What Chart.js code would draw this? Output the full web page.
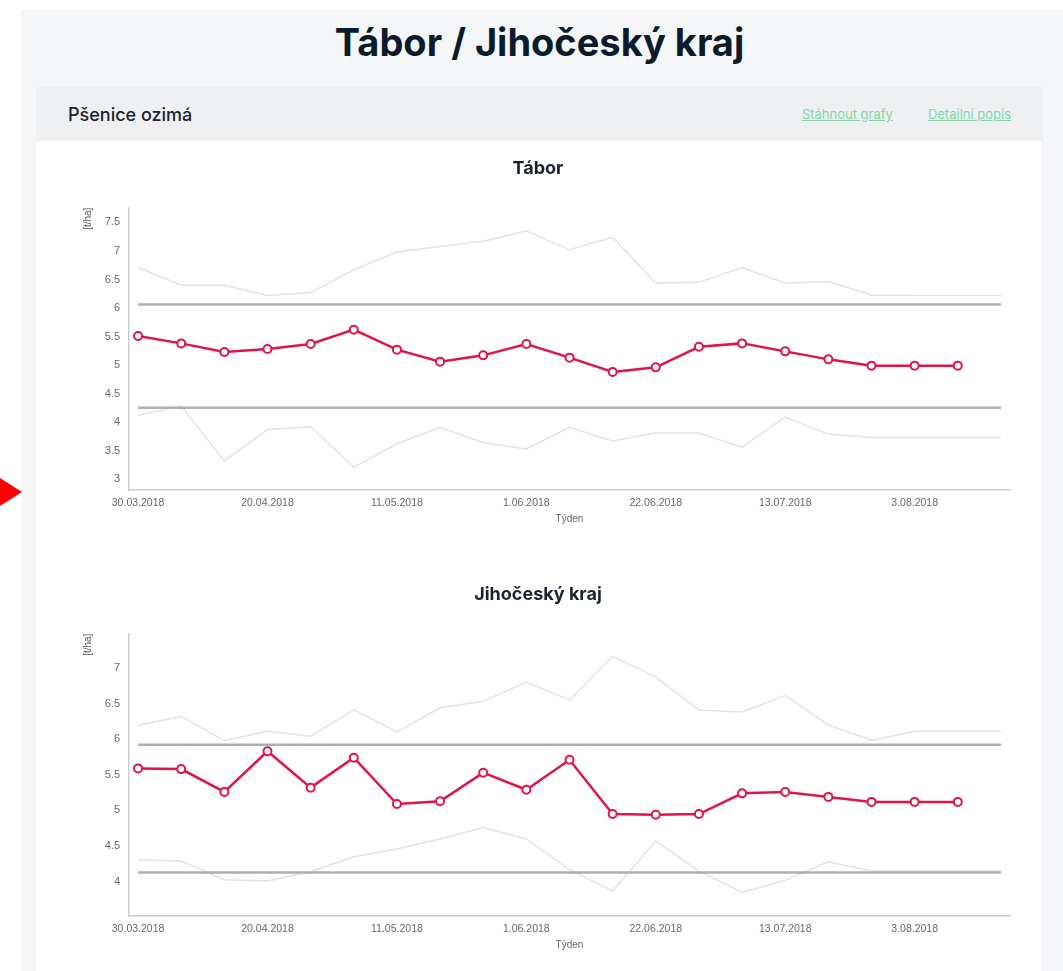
<!DOCTYPE html>
<html lang="cs">
<head>
<meta charset="utf-8">
<title>Tábor / Jihočeský kraj</title>
<script src="https://cdn.jsdelivr.net/npm/chart.js@4.4.1/dist/chart.umd.min.js"></script>
<style>
  body { margin: 0; background: #fff; font-family: Inter, "Noto Sans", sans-serif; }
  .page { position: absolute; left: 21px; top: 10px; width: 1042px; height: 961px; background: #f5f6f8; }
  .arrow { position: absolute; left: 0; top: 478px; width: 0; height: 0;
           border-top: 14px solid transparent; border-bottom: 14px solid transparent; border-left: 22px solid #ff0000; }
  h1 { position: absolute; left: 36px; width: 1007px; top: 19px; margin: 0; text-align: center;
       font-size: 38px; font-weight: 700; color: #0c1b2b; letter-spacing: 0px; }
  .card { position: absolute; left: 36px; top: 87px; width: 1006px; height: 900px; background: #fff;
          border-right: 1px solid #eceef1; }
  .card-head { height: 54px; background: #eff0f2; position: relative; }
  .card-head h2 { position: absolute; left: 32px; top: 17px; margin: 0; font-size: 18px; font-weight: 500; color: #1b2230; }
  .card-head .links { position: absolute; right: 31px; top: 19px; font-size: 13px; }
  .card-head a { color: #86d3ab; text-decoration: underline; margin-left: 35px; }
  .chart-box { position: absolute; left: 66px; width: 950px; height: 384px; }
</style>
</head>
<body>
<div class="page"></div>
<div class="arrow"></div>
<h1>Tábor / Jihočeský kraj</h1>
<div class="card">
  <div class="card-head">
    <h2>Pšenice ozimá</h2>
    <div class="links"><a href="#">Stáhnout grafy</a><a href="#">Detailní popis</a></div>
  </div>
</div>
<div class="chart-box" style="top:146px"><canvas id="taborChart"></canvas></div>
<div class="chart-box" style="top:572px"><canvas id="krajChart"></canvas></div>

<script>
// weekly dates (x axis)
var weeks = ['30.03.2018', '6.04.2018', '13.04.2018', '20.04.2018', '27.04.2018', '4.05.2018', '11.05.2018',
             '18.05.2018', '25.05.2018', '1.06.2018', '8.06.2018', '15.06.2018', '22.06.2018', '29.06.2018',
             '6.07.2018', '13.07.2018', '20.07.2018', '27.07.2018', '3.08.2018', '10.08.2018', '17.08.2018'];
var weekTicks = [0, 3, 6, 9, 12, 15, 18];

// Tábor [t/ha]
var taborYield = [5.51, 5.38, 5.23, 5.28, 5.37, 5.62, 5.27, 5.06, 5.17, 5.37, 5.13, 4.88, 4.96, 5.32, 5.38, 5.24, 5.10, 4.99, 4.99, 4.99];
var taborHigh = [6.71, 6.40, 6.40, 6.22, 6.27, 6.67, 6.98, 7.08, 7.17, 7.35, 7.02, 7.24, 6.44, 6.45, 6.71, 6.44, 6.46, 6.23, 6.22, 6.22, 6.22];
var taborLow = [4.12, 4.28, 3.32, 3.87, 3.92, 3.21, 3.62, 3.91, 3.64, 3.53, 3.91, 3.67, 3.81, 3.81, 3.56, 4.09, 3.79, 3.73, 3.73, 3.73, 3.73];
var taborLimits = [6.06, 4.25];
var taborTicks = [3, 3.5, 4, 4.5, 5, 5.5, 6, 6.5, 7, 7.5];

// Jihočeský kraj [t/ha]
var krajYield = [5.59, 5.58, 5.26, 5.83, 5.32, 5.74, 5.09, 5.13, 5.53, 5.29, 5.71, 4.95, 4.94, 4.95, 5.24, 5.26, 5.19, 5.12, 5.12, 5.12];
var krajHigh = [6.19, 6.32, 5.98, 6.11, 6.04, 6.41, 6.10, 6.44, 6.53, 6.80, 6.55, 7.16, 6.87, 6.41, 6.38, 6.61, 6.20, 5.98, 6.11, 6.11, 6.11];
var krajLow = [4.31, 4.29, 4.03, 4.01, 4.14, 4.35, 4.46, 4.60, 4.76, 4.60, 4.17, 3.87, 4.57, 4.15, 3.85, 4.02, 4.28, 4.15, 4.15, 4.15, 4.15];
var krajLimits = [5.92, 4.13];
var krajTicks = [4, 4.5, 5, 5.5, 6, 6.5, 7];

function points(values) {
    return values.map(function (v, i) { return { x: i, y: v }; });
}

function limitLine(value) {
    return [{ x: 0, y: value }, { x: weeks.length - 1, y: value }];
}

function makeChart(id, title, yieldData, high, low, limits, yTicks, yMin, yMax) {
    var lineStyle = { borderColor: '#e2e2e2', borderWidth: 1.5, pointRadius: 0, fill: false };
    var limitStyle = { borderColor: '#a9b0b7', borderWidth: 2.5, pointRadius: 0, fill: false };

    return new Chart(document.getElementById(id), {
        type: 'line',
        data: {
            datasets: [
                {
                    label: 'Výnos',
                    data: points(yieldData),
                    borderColor: '#e0134b',
                    borderWidth: 2.5,
                    pointRadius: 4,
                    pointBackgroundColor: '#fff',
                    pointBorderColor: '#e0134b',
                    pointBorderWidth: 2,
                    order: 0
                },
                Object.assign({ label: 'Horní mez', data: limitLine(limits[0]), order: 1 }, limitStyle),
                Object.assign({ label: 'Dolní mez', data: limitLine(limits[1]), order: 1 }, limitStyle),
                Object.assign({ label: 'Maximum', data: points(high), order: 2 }, lineStyle),
                Object.assign({ label: 'Minimum', data: points(low), order: 2 }, lineStyle)
            ]
        },
        options: {
            responsive: true,
            maintainAspectRatio: false,
            animation: false,
            layout: { padding: { right: 6 } },
            plugins: {
                legend: { display: false },
                tooltip: { enabled: false },
                title: {
                    display: true,
                    text: title,
                    color: '#1b2230',
                    font: { family: 'Inter', size: 18, weight: '700' },
                    padding: { top: 12, bottom: 28 }
                }
            },
            scales: {
                x: {
                    type: 'linear',
                    min: -0.21,
                    max: weeks.length - 1 + 0.21,
                    grid: { display: false, drawTicks: false },
                    border: { display: true, color: '#c6cdd4', width: 1.5 },
                    afterBuildTicks: function (scale) {
                        scale.ticks = weekTicks.map(function (v) { return { value: v }; });
                    },
                    afterFit: function (scale) { scale.height = 40; },
                    ticks: {
                        autoSkip: false,
                        maxRotation: 0,
                        padding: 7,
                        color: '#666',
                        font: { family: 'Liberation Sans', size: 10.5 },
                        callback: function (value) { return weeks[value]; }
                    },
                    title: {
                        display: true,
                        text: 'Týden',
                        color: '#5f6670',
                        font: { family: 'Liberation Sans', size: 10 },
                        padding: { top: 0, bottom: 5 }
                    }
                },
                y: {
                    min: yMin,
                    max: yMax,
                    grid: { display: false, drawTicks: false },
                    border: { display: true, color: '#c6cdd4', width: 1.5 },
                    afterBuildTicks: function (scale) {
                        scale.ticks = yTicks.map(function (v) { return { value: v }; });
                    },
                    afterFit: function (scale) { scale.width = 63; },
                    ticks: {
                        padding: 9,
                        color: '#666',
                        font: { family: 'Liberation Sans', size: 11 },
                        callback: function (value) { return String(value); }
                    },
                    title: {
                        display: true,
                        text: '[t/ha]',
                        align: 'end',
                        color: '#555',
                        font: { family: 'Liberation Sans', size: 10 },
                        padding: { top: 16, bottom: 0 }
                    }
                }
            }
        }
    });
}

makeChart('taborChart', 'Tábor', taborYield, taborHigh, taborLow, taborLimits, taborTicks, 2.81, 7.76);
makeChart('krajChart', 'Jihočeský kraj', krajYield, krajHigh, krajLow, krajLimits, krajTicks, 3.52, 7.48);
</script>
</body>
</html>
